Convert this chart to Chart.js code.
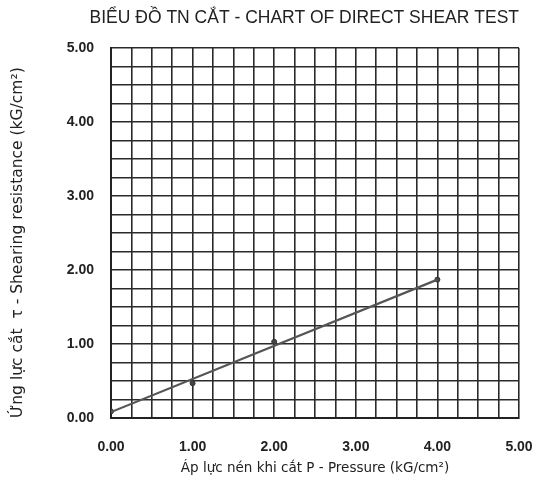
<!DOCTYPE html>
<html>
<head>
<meta charset="utf-8">
<script src="https://cdn.jsdelivr.net/npm/chart.js@4"></script>
<style>
html,body{margin:0;padding:0;background:#fff;}
#wrap{width:535px;height:477px;position:relative;}
</style>
</head>
<body>
<div id="wrap"><canvas id="c" width="535" height="477"></canvas></div>
<script>
const chartTitle = 'BIỂU ĐỒ TN CẮT - CHART OF DIRECT SHEAR TEST';
const xTitle = 'Áp lực nén khi cắt P - Pressure (kG/cm²)';
const yTitle = 'Ứng lực cắt  τ - Shearing resistance (kG/cm²)';
const pressure = [0, 1, 2, 4];
const shear = [0.09, 0.47, 1.03, 1.87];
const fitX = [0, 4];
const fitY = [0.08, 1.87];
const xTickLabels = ['0.00', '1.00', '2.00', '3.00', '4.00', '5.00'];
const yTickLabels = ['0.00', '1.00', '2.00', '3.00', '4.00', '5.00'];

const pts = pressure.map((x, i) => ({x: x, y: shear[i]}));
const fit = fitX.map((x, i) => ({x: x, y: fitY[i]}));
const font = "'Liberation Sans', Arial, sans-serif";
const wide = "'DejaVu Sans', sans-serif";
const gridColor = '#2a2a2a';

function tickCb(labels) {
  return function(v) {
    const r = Math.round(v * 100) / 100;
    if (Math.abs(r - Math.round(r)) < 1e-6) return labels[Math.round(r)];
    return '';
  };
}

new Chart(document.getElementById('c'), {
  type: 'scatter',
  data: {
    datasets: [
      {data: fit, showLine: true, borderColor: '#555', borderWidth: 2.2, pointRadius: 0, fill: false},
      {data: pts, showLine: false, pointRadius: 2.5, pointBackgroundColor: '#444', pointBorderColor: '#333', borderWidth: 1}
    ]
  },
  options: {
    responsive: false,
    animation: false,
    layout: {padding: {left: 0, right: 16, top: 0, bottom: 0}},
    plugins: {
      legend: {display: false},
      tooltip: {enabled: false},
      title: {display: true, text: chartTitle, color: '#222', font: {family: font, size: 17.5, weight: 'normal'}, padding: {top: 8, bottom: 19}, align: 'end'}
    },
    scales: {
      x: {
        type: 'linear', min: 0, max: 5,
        afterFit: s => { s.height = 59; s.paddingLeft = 0; s.paddingRight = 0; },
        ticks: {stepSize: 0.25, autoSkip: false, maxRotation: 0, callback: tickCb(xTickLabels), color: '#222', font: {family: font, size: 14, weight: 'bold'}, padding: 21},
        grid: {color: gridColor, lineWidth: 1.6, drawTicks: false},
        border: {color: '#222', width: 2},
        title: {display: true, text: xTitle, color: '#222', font: {family: wide, size: 13.5}, padding: {top: 0, bottom: 0}}
      },
      y: {
        type: 'linear', min: 0, max: 5,
        afterFit: s => { s.width = 111; s.paddingTop = 0; s.paddingBottom = 0; },
        ticks: {stepSize: 0.25, autoSkip: false, callback: tickCb(yTickLabels), color: '#222', font: {family: font, size: 14, weight: 'bold'}, padding: 17},
        grid: {color: gridColor, lineWidth: 1.6, drawTicks: false},
        border: {color: '#222', width: 2},
        title: {display: true, text: yTitle, color: '#222', align: 'start', font: {family: wide, size: 15.5}, padding: {top: 9, bottom: 0}}
      }
    }
  }
});
</script>
</body>
</html>
